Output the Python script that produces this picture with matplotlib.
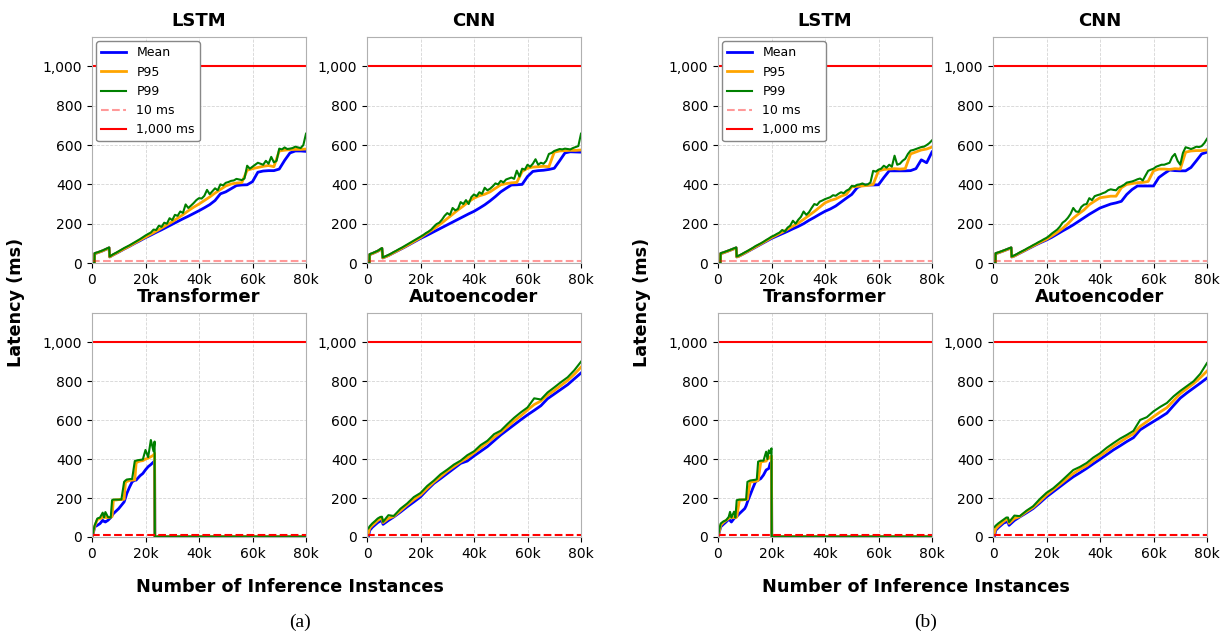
import matplotlib
matplotlib.use('Agg')
import matplotlib.pyplot as plt
from matplotlib.ticker import FuncFormatter

# x in thousands of inference instances, latency in ms

# ---------------- (a) ----------------
lstm_a_x = [0, 0.9, 1, 2, 4, 6.4, 6.6] + list(range(8, 81, 2))
lstm_a_mean = [0, 0, 48, 52, 62, 77, 31, 42, 56, 71, 85, 100, 114, 129,
               142, 156, 169, 183, 197, 211, 225, 238, 252, 266,
               281, 297, 318, 352, 362, 378, 394, 397, 398, 414,
               462, 468, 470, 470, 478, 522, 560, 570, 570, 568]
lstm_a_p95 = [0, 0, 48, 52, 62, 77, 31, 42, 57, 72, 86, 102, 117, 132,
              147, 162, 178, 194, 210, 228, 246, 266, 284, 300,
              318, 336, 356, 374, 392, 402, 407, 409, 472, 480,
              486, 492, 496, 490, 570, 574, 577, 578, 578, 580]
# P99 is read at a finer step (1k) because it is spiky
lstm_a_p99_x = [0, 0.9, 1, 2, 4, 6.4, 6.6] + list(range(8, 81))
lstm_a_p99 = [0, 0, 50, 54, 64, 79, 33,
              45, 52, 60, 68, 76, 83, 90, 98, 106, 114, 122, 131, 140,
              148, 155, 170, 168, 190, 184, 205, 200, 228, 218,
              245, 240, 262, 255, 298, 280, 292, 305, 320, 330,
              328, 342, 372, 350, 365, 380, 370, 400, 395, 408,
              412, 418, 420, 428, 425, 422, 430, 495, 480, 490,
              500, 510, 505, 500, 520, 505, 540, 512, 520, 582,
              578, 588, 580, 582, 585, 592, 588, 585, 600, 658]

cnn_a_x = [0, 0.9, 1, 2, 4, 5.6, 5.9] + list(range(8, 81, 2))
cnn_a_mean = [0, 0, 43, 48, 60, 74, 26, 38, 52, 66, 80, 95, 110, 125,
              138, 152, 166, 180, 194, 208, 222, 236, 250, 263,
              279, 296, 316, 338, 362, 380, 397, 398, 400, 440,
              466, 470, 472, 476, 482, 520, 560, 566, 565, 564]
cnn_a_p95 = [0, 0, 43, 48, 60, 74, 26, 38, 53, 67, 82, 97, 113, 129,
             148, 165, 184, 204, 226, 248, 270, 290, 312, 330,
             342, 350, 362, 380, 398, 404, 408, 410, 466, 482,
             488, 490, 492, 490, 564, 570, 572, 573, 573, 575]
cnn_a_p99_x = [0, 0.9, 1, 2, 4, 5.6, 5.9] + list(range(8, 81))
cnn_a_p99 = [0, 0, 45, 50, 62, 76, 28,
             41, 48, 56, 63, 71, 78, 86, 94, 102, 110, 118, 126, 134,
             142, 152, 160, 170, 185, 198, 205, 220, 240, 254,
             245, 280, 268, 275, 310, 300, 320, 300, 335, 349,
             340, 360, 352, 383, 370, 378, 390, 405, 400, 418,
             410, 425, 430, 435, 428, 470, 440, 480, 475, 500,
             490, 505, 528, 500, 510, 505, 520, 555, 560, 570,
             575, 580, 578, 582, 580, 578, 585, 590, 595, 658]

trans_a_x = [0, 0.5, 1, 2, 3, 4, 4.5, 5, 6, 7, 7.5, 8, 9, 10, 11, 12, 12.5, 13,
             14, 15, 16, 16.5, 17, 18, 19, 20, 21, 22, 23, 23.4, 23.5,
             30, 40, 50, 60, 70, 80]
trans_a_mean = [0, 20, 52, 60, 69, 86, 80, 77, 86, 100, 110, 120, 133, 146, 163,
                180, 200, 223, 255, 283, 292, 292, 300, 315, 326, 345, 361, 372,
                385, 390, 2, 2, 2, 2, 2, 2, 2]
trans_a_p95 = [0, 25, 55, 90, 95, 100, 110, 100, 100, 102, 105, 190, 190, 192, 192,
               194, 280, 285, 290, 292, 294, 380, 385, 390, 392, 400, 405, 412,
               420, 430, 2, 2, 2, 2, 2, 2, 2]
trans_a_p99 = [0, 30, 60, 95, 100, 125, 100, 128, 102, 100, 189, 192, 192, 192, 193,
               283, 290, 295, 297, 298, 390, 392, 394, 396, 398, 447, 410, 498,
               440, 490, 2, 2, 2, 2, 2, 2, 2]

ae_x = [0, 0.5, 1, 2, 3, 4, 5, 5.6, 6, 8] + [10 + 2.5 * i for i in range(29)]
ae_a_mean = [0, 0, 34, 50, 62, 74, 82, 84, 65, 85,
             103, 128, 155, 180, 206, 242, 275, 300, 326, 352,
             378, 390, 416, 440, 464, 494, 524, 550, 576, 602,
             627, 650, 674, 710, 734, 758, 782, 812, 842]
ae_a_p95 = [0, 20, 45, 60, 72, 85, 94, 96, 74, 95,
            106, 135, 165, 192, 216, 250, 282, 310, 338, 362,
            386, 406, 432, 458, 484, 512, 537, 566, 596, 622,
            652, 680, 698, 728, 752, 778, 804, 836, 872]
ae_a_p99 = [40, 44, 55, 70, 82, 95, 103, 104, 78, 112,
            108, 145, 172, 205, 226, 262, 290, 322, 346, 372,
            392, 420, 440, 472, 494, 528, 546, 580, 612, 640,
            665, 712, 706, 742, 768, 795, 820, 856, 900]

# ---------------- (b) ----------------
lstm_b_x = [0, 0.9, 1, 2, 4, 6.8, 7.0] + list(range(8, 81, 2))
lstm_b_mean = [0, 0, 48, 52, 62, 77, 31, 36, 50, 65, 80, 95, 110, 125,
               137, 149, 161, 174, 186, 200, 217, 232, 248, 263,
               275, 290, 310, 330, 349, 383, 397, 397, 397, 398,
               435, 469, 469, 469, 469, 470, 480, 525, 510, 565]
lstm_b_p95 = [0, 0, 48, 52, 62, 77, 31, 36, 51, 66, 82, 97, 113, 129,
              143, 157, 172, 188, 203, 222, 242, 262, 284, 306,
              318, 326, 340, 350, 387, 390, 392, 395, 400, 469,
              476, 478, 480, 478, 480, 555, 565, 575, 580, 590]
lstm_b_p99_x = [0, 0.9, 1, 2, 4, 6.8, 7.0] + list(range(8, 81))
lstm_b_p99 = [0, 0, 50, 54, 64, 79, 33,
              39, 46, 54, 61, 69, 77, 86, 93, 100, 108, 117, 125, 134,
              140, 148, 155, 168, 160, 180, 190, 215, 200, 220,
              235, 262, 245, 258, 280, 300, 295, 312, 318, 325,
              330, 335, 345, 342, 352, 360, 355, 368, 375, 392,
              390, 398, 400, 405, 398, 400, 410, 469, 465, 475,
              480, 495, 485, 500, 490, 546, 500, 505, 520, 530,
              555, 572, 575, 580, 585, 590, 592, 600, 610, 624]

cnn_b_x = [0, 0.9, 1, 2, 4, 6.8, 7.0] + list(range(8, 81, 2))
cnn_b_mean = [0, 0, 48, 52, 62, 77, 31, 36, 50, 64, 78, 92, 105, 117,
              131, 147, 163, 178, 194, 212, 230, 248, 264, 280,
              290, 300, 306, 314, 349, 374, 392, 392, 392, 392,
              435, 455, 473, 470, 469, 469, 486, 520, 555, 564]
cnn_b_p95 = [0, 0, 48, 52, 62, 77, 31, 36, 51, 65, 80, 94, 108, 121,
             138, 156, 176, 200, 228, 250, 270, 297, 315, 332,
             336, 340, 340, 383, 400, 404, 409, 410, 415, 469,
             478, 478, 476, 480, 478, 564, 570, 572, 572, 575]
cnn_b_p99_x = [0, 0.9, 1, 2, 4, 6.8, 7.0] + list(range(8, 81))
cnn_b_p99 = [0, 0, 50, 54, 64, 79, 33,
             39, 46, 54, 61, 68, 76, 83, 91, 98, 106, 113, 121, 128,
             138, 150, 160, 170, 185, 205, 215, 230, 250, 280,
             262, 260, 285, 297, 300, 330, 320, 340, 345, 349,
             355, 360, 370, 375, 372, 370, 385, 390, 398, 409,
             412, 415, 420, 426, 430, 420, 445, 469, 475, 480,
             490, 495, 500, 500, 505, 510, 540, 555, 520, 500,
             560, 589, 585, 580, 585, 592, 590, 595, 610, 632]

trans_b_x = [0, 0.5, 1, 2, 3, 4, 4.5, 5, 6, 6.5, 7, 8, 9, 10, 10.5, 11, 12, 13,
             14, 14.5, 15, 16, 17, 18, 18.5, 19, 19.5, 20, 20.1,
             30, 40, 50, 60, 70, 80]
trans_b_mean = [0, 25, 52, 65, 77, 91, 85, 77, 95, 100, 105, 120, 133, 146, 160,
                180, 215, 250, 283, 288, 292, 300, 318, 344, 348, 352, 378, 385,
                2, 2, 2, 2, 2, 2, 2]
trans_b_p95 = [0, 30, 60, 75, 85, 95, 110, 100, 100, 100, 102, 190, 190, 192, 192,
               194, 282, 284, 286, 288, 290, 385, 388, 390, 400, 405, 412, 415,
               2, 2, 2, 2, 2, 2, 2]
trans_b_p99 = [0, 40, 69, 80, 86, 103, 129, 100, 130, 100, 189, 192, 192, 192, 193,
               283, 290, 292, 294, 296, 387, 392, 392, 438, 400, 445, 430, 455,
               2, 2, 2, 2, 2, 2, 2]

ae_b_mean = [0, 0, 34, 48, 60, 72, 77, 78, 60, 85,
             103, 124, 146, 175, 206, 232, 258, 284, 309, 330,
             352, 376, 399, 423, 447, 468, 490, 510, 550, 572,
             593, 614, 636, 675, 713, 740, 765, 790, 816]
ae_b_p95 = [0, 20, 42, 56, 68, 80, 90, 92, 70, 95,
            105, 130, 152, 183, 216, 243, 270, 298, 326, 348,
            366, 392, 416, 440, 466, 488, 510, 530, 568, 592,
            618, 642, 664, 700, 736, 762, 788, 818, 852]
ae_b_p99 = [46, 50, 58, 70, 80, 90, 100, 100, 77, 110,
            107, 135, 158, 195, 227, 250, 280, 312, 344, 360,
            380, 408, 430, 458, 482, 505, 524, 545, 601, 615,
            645, 668, 688, 722, 750, 775, 800, 838, 893]

titles = ['LSTM', 'CNN', 'Transformer', 'Autoencoder']

W, H = 1226, 635


def draw_panel(ax, x, mean, p95, p99_x, p99, title, dash_alpha):
    ax.plot(x, mean, color='blue', lw=2, label='Mean')
    ax.plot(x, p95, color='orange', lw=2, label='P95')
    ax.plot(p99_x, p99, color='green', lw=1.5, label='P99')
    ax.axhline(10, color='red', ls='--', lw=1.5, alpha=dash_alpha, label='10 ms')
    ax.axhline(1000, color='red', lw=1.5, label='1,000 ms')
    ax.set_xlim(0, 80)
    ax.set_ylim(0, 1150)
    ax.set_xticks([0, 20, 40, 60, 80])
    ax.set_yticks(range(0, 1001, 200))
    ax.xaxis.set_major_formatter(FuncFormatter(lambda v, p: '0' if v == 0 else f'{int(v)}k'))
    ax.yaxis.set_major_formatter(FuncFormatter(lambda v, p: f'{int(v):,}'))
    ax.tick_params(labelsize=10, length=3.5)
    ax.grid(True, ls='--', lw=0.6, color='#d5d5d5')
    for s in ax.spines.values():
        s.set_color('#b0b0b0')
    ax.set_title(title, fontweight='bold', fontsize=13, pad=8)


def px_axes(fig, left, top, right, bottom):
    return fig.add_axes([left / W, 1 - bottom / H, (right - left) / W, (bottom - top) / H])


fig = plt.figure(figsize=(W / 100, H / 100), dpi=100)

groups = [
    (0, [(lstm_a_x, lstm_a_mean, lstm_a_p95, lstm_a_p99_x, lstm_a_p99),
         (cnn_a_x, cnn_a_mean, cnn_a_p95, cnn_a_p99_x, cnn_a_p99),
         (trans_a_x, trans_a_mean, trans_a_p95, trans_a_x, trans_a_p99),
         (ae_x, ae_a_mean, ae_a_p95, ae_x, ae_a_p99)], '(a)'),
    (626, [(lstm_b_x, lstm_b_mean, lstm_b_p95, lstm_b_p99_x, lstm_b_p99),
           (cnn_b_x, cnn_b_mean, cnn_b_p95, cnn_b_p99_x, cnn_b_p99),
           (trans_b_x, trans_b_mean, trans_b_p95, trans_b_x, trans_b_p99),
           (ae_x, ae_b_mean, ae_b_p95, ae_x, ae_b_p99)], '(b)'),
]

# panel boxes in pixels (left, top, right, bottom) for group (a)
boxes = [(92, 37, 306, 263), (367, 37, 581, 263),
         (92, 313, 306, 537), (367, 313, 581, 537)]

for off, data, cap in groups:
    for i, (box, d) in enumerate(zip(boxes, data)):
        l, t, r, b = box
        ax = px_axes(fig, l + off, t, r + off, b)
        draw_panel(ax, *d, titles[i], 0.4 if i < 2 else 1.0)
        if i == 0:
            ax.legend(loc='upper left', fontsize=9, borderaxespad=0.35,
                      edgecolor='#888888', framealpha=1.0)
    fig.text((16 + off) / W, 1 - 302 / H, 'Latency (ms)', rotation=90,
             fontsize=12.7, fontweight='bold', ha='center', va='center')
    fig.text((290 + off) / W, 1 - 587 / H, 'Number of Inference Instances',
             fontsize=12.7, fontweight='bold', ha='center', va='center')
    fig.text((300 + off) / W, 1 - 622 / H, cap, fontsize=14,
             family='Liberation Serif', ha='center', va='center')

fig.savefig('out.png', dpi=100)
